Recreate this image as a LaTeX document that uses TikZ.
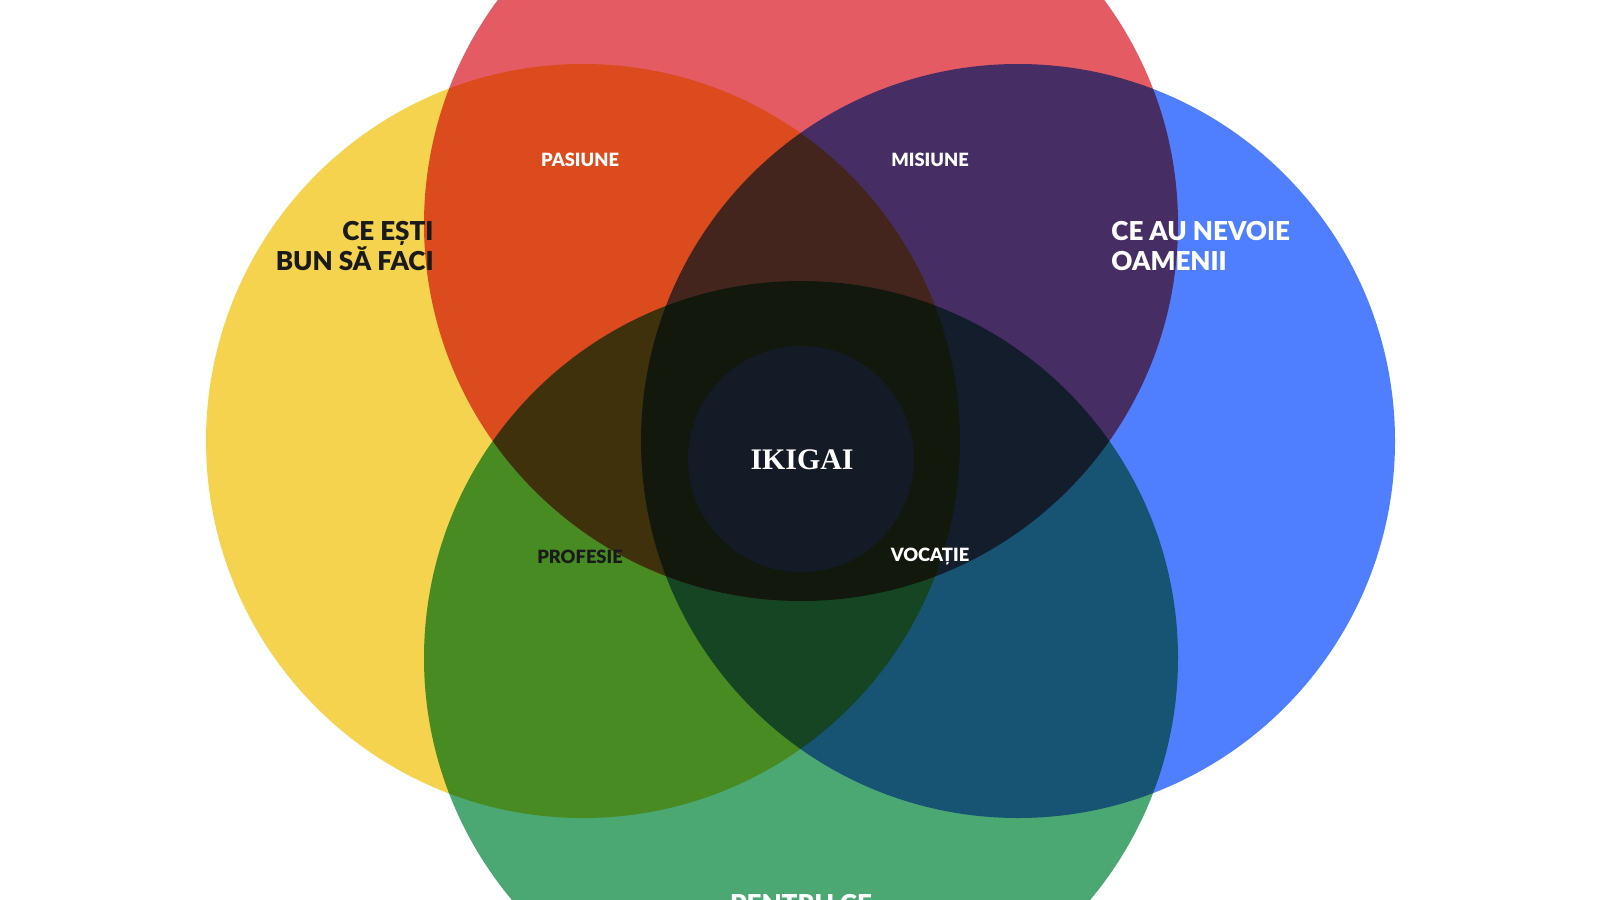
\documentclass[tikz,border=0pt]{standalone}
\usepackage{fontspec}
\setmainfont{Lato Black}
\newfontfamily\titlefont{Liberation Serif}
\definecolor{cyellow}{HTML}{F5D34F}
\definecolor{cred}{HTML}{E45B63}
\definecolor{cblue}{HTML}{4F7FFF}
\definecolor{cgreen}{HTML}{4BA872}
\definecolor{cdark}{HTML}{141A26}
\definecolor{ctext}{HTML}{1A1A1A}
\tikzset{
    big/.style={font=\fontsize{7.4}{8.6}\selectfont},
    small/.style={font=\fontsize{5.2}{6}\selectfont}
}

\begin{document}
\begin{tikzpicture}[x=0.01cm,y=-0.01cm]
    \useasboundingbox (0,0) rectangle (1600,900);
    \clip (0,0) rectangle (1600,900);
    \begin{scope}[blend group=multiply]
        \fill[cyellow] (583,441) circle (377);
        \fill[cblue] (1018,441) circle (377);
        \fill[cred] (801,224) circle (377);
        \fill[cgreen] (801,658) circle (377);
    \end{scope}
    \fill[cdark] (801,459) circle (113);
    \node (ikigai) at (802,460) {\titlefont\fontsize{8.5}{9}\selectfont\bfseries\color{white}IKIGAI};
    \node[small,white] (pasiune) at (580,160) {PASIUNE};
    \node[small,white] (misiune) at (930,160) {MISIUNE};
    \node[small,ctext] (profesie) at (580,557) {PROFESIE};
    \node[small,white] (vocatie) at (930,557) {VOCAȚIE};
    \node[big,ctext,align=right,anchor=east] (bun) at (446,246) {CE EȘTI\\BUN SĂ FACI};
    \node[big,white,align=left,anchor=west] (nevoie) at (1099,246) {CE AU NEVOIE\\OAMENII};
    \node[big,white,anchor=north] (platit) at (801,882) {PENTRU CE};
\end{tikzpicture}
\end{document}
